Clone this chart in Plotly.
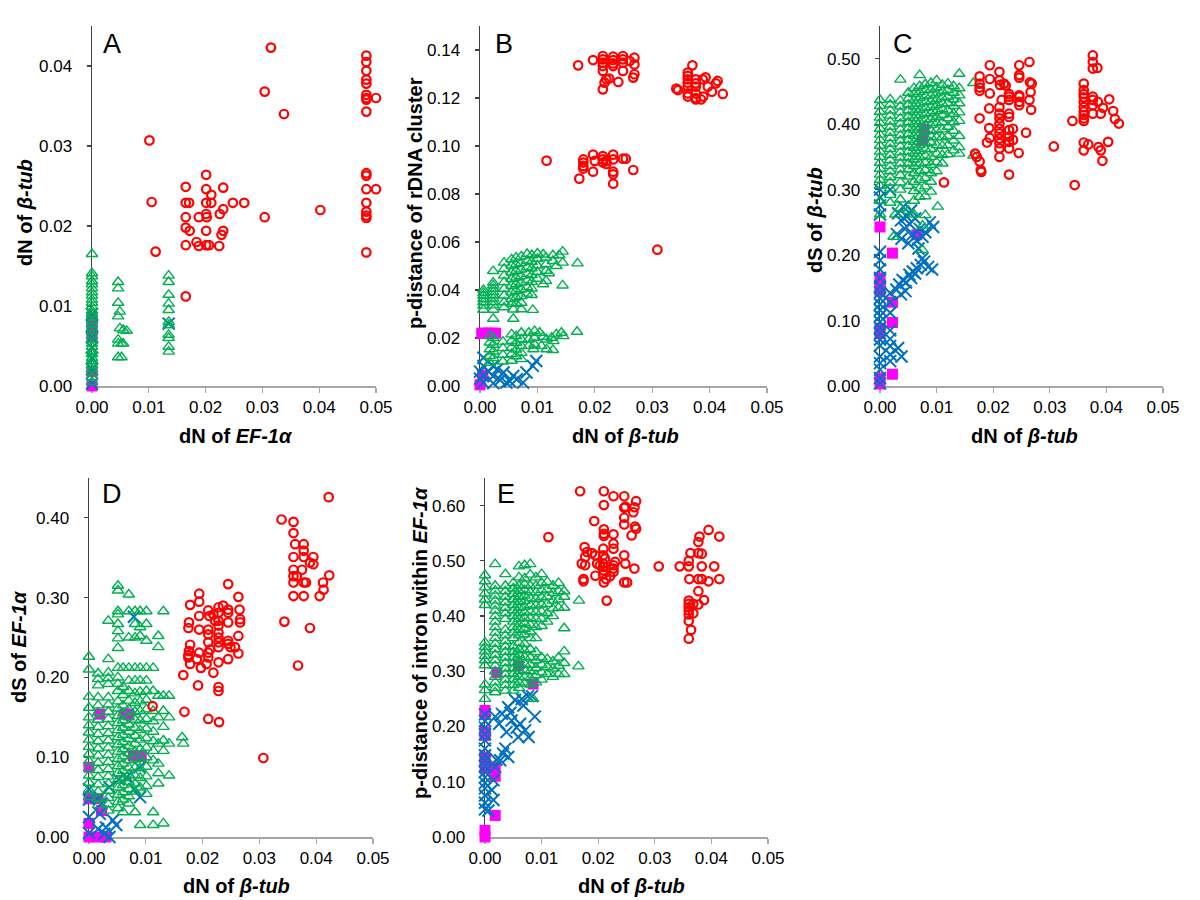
import plotly.graph_objects as go

# ---------------- DATA ----------------
X_TICKS = [0.00, 0.01, 0.02, 0.03, 0.04, 0.05]
PANEL_LETTERS = ["A", "B", "C", "D", "E"]

# ---- Panel A : dN EF-1a (x) vs dN beta-tub (y)
A_red = [(0.0315,0.0423),(0.0304,0.0368),(0.0338,0.0340),(0.0101,0.0307),(0.0105,0.0230),(0.0112,0.0168),(0.0165,0.0112),
         (0.0165,0.0249),(0.0165,0.0229),(0.0171,0.0229),(0.0165,0.0211),(0.0165,0.0198),(0.0172,0.0194),(0.0165,0.0176),
         (0.0184,0.0180),(0.0188,0.0175),(0.0188,0.0211),(0.0201,0.0264),(0.0201,0.0246),(0.0210,0.0239),(0.0201,0.0229),
         (0.0210,0.0229),(0.0201,0.0215),(0.0202,0.0211),(0.0201,0.0194),(0.0201,0.0176),(0.0206,0.0176),(0.0231,0.0248),
         (0.0231,0.0221),(0.0225,0.0215),(0.0231,0.0194),(0.0228,0.0189),(0.0224,0.0175),(0.0248,0.0229),(0.0268,0.0229),
         (0.0304,0.0211),(0.0402,0.0220),
         (0.0483,0.0413),(0.0483,0.0405),(0.0483,0.0394),(0.0483,0.0383),(0.0483,0.0378),(0.0483,0.0364),(0.0483,0.0360),
         (0.0483,0.0358),(0.0483,0.0343),(0.0483,0.0266),(0.0483,0.0263),(0.0483,0.0246),(0.0483,0.0229),(0.0483,0.0218),
         (0.0483,0.0213),(0.0483,0.0210),(0.0483,0.0167),(0.0500,0.0360),(0.0500,0.0246)]
A_green = [(0,0.0165),(0,0.0141),(0,0.0137),(0,0.0131),(0,0.0127),(0,0.0122),(0,0.0117),(0,0.0113),(0,0.0108),(0,0.0104),
           (0,0.0099),(0,0.0094),(0,0.0090),(0,0.0086),(0,0.0081),(0,0.0077),(0,0.0072),(0,0.0068),(0,0.0063),(0,0.0058),
           (0,0.0053),(0,0.0049),(0,0.0044),(0,0.0040),(0,0.0035),(0,0.0031),(0,0.0026),(0,0.0021),(0,0.0017),(0,0.0011),(0,0.0005),
           (0.0046,0.0130),(0.0046,0.0122),(0.0046,0.0104),(0.0049,0.0093),(0.0046,0.0087),(0.0049,0.0072),(0.0055,0.0070),
           (0.0061,0.0069),(0.0046,0.0058),(0.0046,0.0053),(0.0052,0.0053),(0.0055,0.0053),(0.0046,0.0036),(0.0052,0.0036),
           (0.0135,0.0138),(0.0135,0.0130),(0.0135,0.0114),(0.0135,0.0103),(0.0135,0.0095),(0.0135,0.0080),(0.0135,0.0076),
           (0.0135,0.0064),(0.0135,0.0060),(0.0135,0.0049),(0.0135,0.0043)]
A_blue = [(0,0.0003),(0,0.0021),(0,0.0035),(0,0.0048),(0,0.0061),(0,0.0075),(0,0.0090),(0.0135,0.0078)]
A_mag = [(0,0.0),(0,0.0018),(0,0.0062),(0,0.0070),(0,0.0078),(0,0.0086)]

# ---- Panel B : dN beta-tub (x) vs p-distance rDNA (y)
B_red = [(0.0171,0.1336),(0.0197,0.1358),(0.0214,0.1375),(0.0214,0.1361),(0.0214,0.1347),(0.0214,0.1333),(0.0214,0.1313),
         (0.0214,0.1236),(0.0220,0.1278),(0.0225,0.1281),(0.0217,0.1264),(0.0232,0.1372),(0.0232,0.1358),(0.0232,0.1344),
         (0.0232,0.1333),(0.0241,0.1267),(0.0249,0.1375),(0.0249,0.1361),(0.0249,0.1347),(0.0249,0.1313),(0.0261,0.1354),
         (0.0269,0.1368),(0.0269,0.1340),(0.0269,0.1299),(0.0267,0.1285),
         (0.0370,0.1336),(0.0362,0.1306),(0.0362,0.1292),(0.0362,0.1278),(0.0362,0.1264),(0.0362,0.1247),(0.0362,0.1219),
         (0.0362,0.1206),(0.0342,0.1239),(0.0345,0.1233),(0.0376,0.1278),(0.0376,0.1261),(0.0376,0.1247),(0.0376,0.1219),
         (0.0376,0.1200),(0.0376,0.1194),(0.0385,0.1194),(0.0389,0.1206),(0.0393,0.1286),(0.0397,0.1247),(0.0404,0.1226),
         (0.0414,0.1271),(0.0411,0.1261),(0.0423,0.1217),(0.0388,0.1278),
         (0.0116,0.0939),(0.0173,0.0864),(0.0180,0.0944),(0.0180,0.0931),(0.0180,0.0917),(0.0180,0.0906),(0.0197,0.0964),
         (0.0197,0.0893),(0.0200,0.0938),(0.0214,0.0958),(0.0214,0.0944),(0.0214,0.0931),(0.0220,0.0938),(0.0220,0.0925),
         (0.0232,0.0964),(0.0232,0.0944),(0.0232,0.0893),(0.0232,0.0882),(0.0232,0.0843),(0.0249,0.0947),(0.0254,0.0947),
         (0.0267,0.0900),(0.0309,0.0568)]
B_green = [(0.0006,0.0400),(0.0006,0.0388),(0.0006,0.0376),(0.0006,0.0362),(0.0006,0.0349),(0.0006,0.0335),(0.0006,0.0318),
           (0.0023,0.0479),(0.0023,0.0431),(0.0023,0.0419),(0.0023,0.0405),(0.0023,0.0392),(0.0023,0.0378),(0.0023,0.0364),
           (0.0023,0.0350),(0.0023,0.0336),(0.0023,0.0318),(0.0023,0.0280),
           (0.0042,0.0514),(0.0042,0.0488),(0.0042,0.0460),(0.0042,0.0433),(0.0042,0.0405),(0.0042,0.0377),(0.0042,0.0349),(0.0042,0.0328),
           (0.0055,0.0528),(0.0055,0.0502),(0.0055,0.0474),(0.0055,0.0446),(0.0055,0.0418),(0.0055,0.0390),(0.0055,0.0362),(0.0055,0.0342),
           (0.0058,0.0319),(0.0058,0.0280),
           (0.0063,0.0535),(0.0063,0.0508),(0.0063,0.0480),(0.0063,0.0452),(0.0063,0.0425),(0.0063,0.0397),(0.0063,0.0370),(0.0063,0.0343),
           (0.0072,0.0540),(0.0072,0.0513),(0.0072,0.0486),(0.0072,0.0458),(0.0072,0.0431),(0.0072,0.0403),(0.0072,0.0375),(0.0072,0.0347),(0.0072,0.0320),
           (0.0082,0.0550),(0.0082,0.0522),(0.0082,0.0495),(0.0082,0.0467),(0.0082,0.0440),(0.0082,0.0412),(0.0082,0.0385),
           (0.0090,0.0545),(0.0090,0.0517),(0.0090,0.0490),(0.0090,0.0462),(0.0090,0.0434),(0.0090,0.0406),(0.0090,0.0379),(0.0092,0.0317),
           (0.0100,0.0552),(0.0100,0.0530),(0.0100,0.0502),(0.0100,0.0475),(0.0100,0.0447),(0.0110,0.0424),(0.0110,0.0548),
           (0.0115,0.0535),(0.0115,0.0507),(0.0115,0.0480),(0.0115,0.0438),(0.0120,0.0470),(0.0127,0.0521),(0.0127,0.0545),
           (0.0133,0.0500),(0.0138,0.0545),(0.0144,0.0560),(0.0144,0.0514),(0.0144,0.0419),(0.0170,0.0511),
           (0.0017,0.0208),(0.0017,0.0181),(0.0017,0.0153),(0.0017,0.0125),(0.0017,0.0097),(0.0023,0.0200),(0.0023,0.0172),
           (0.0023,0.0144),(0.0023,0.0116),(0.0040,0.0185),(0.0040,0.0158),(0.0040,0.0130),(0.0040,0.0102),
           (0.0055,0.0215),(0.0055,0.0188),(0.0055,0.0160),(0.0055,0.0133),(0.0055,0.0105),
           (0.0063,0.0208),(0.0063,0.0180),(0.0063,0.0152),(0.0063,0.0124),
           (0.0072,0.0222),(0.0072,0.0194),(0.0072,0.0166),(0.0072,0.0138),(0.0072,0.0112),
           (0.0085,0.0222),(0.0085,0.0194),(0.0085,0.0167),(0.0095,0.0229),(0.0095,0.0201),(0.0095,0.0173),
           (0.0104,0.0222),(0.0107,0.0167),(0.0110,0.0205),(0.0116,0.0194),(0.0116,0.0153),(0.0125,0.0201),(0.0128,0.0187),
           (0.0127,0.0150),(0.0133,0.0215),(0.0142,0.0222),(0.0145,0.0208),(0.0169,0.0226),(0.0093,0.0153)]
B_blue = [(0.0006,0.0118),(0.0006,0.0083),(0.0006,0.0042),(0.0006,0.0014),(0.0023,0.0083),(0.0023,0.0042),(0.0023,0.0012),
          (0.0041,0.0056),(0.0046,0.0014),(0.0058,0.0042),(0.0064,0.0028),(0.0075,0.0014),(0.0081,0.0056),(0.0092,0.0084),
          (0.0098,0.0104),(0.0035,0.0025),(0.0052,0.0020),(0.0015,0.0060),(0.0030,0.0070),(0.0000,0.0060),(0.0000,0.0030)]
B_mag = [(0.0003,0.0220),(0.0009,0.0220),(0.0015,0.0220),(0.0021,0.0220),(0.0027,0.0220),(0.0000,0.0005),(0.0005,0.0045)]

# ---- Panel C : dN beta-tub (x) vs dS beta-tub (y)
C_red = [(0.0194,0.490),(0.0176,0.473),(0.0176,0.462),(0.0176,0.456),(0.0176,0.451),(0.0176,0.409),(0.0168,0.355),
         (0.0171,0.350),(0.0176,0.343),(0.0178,0.330),(0.0179,0.327),(0.0194,0.469),(0.0194,0.447),(0.0193,0.424),
         (0.0193,0.394),(0.0194,0.379),(0.0189,0.372),(0.0211,0.480),(0.0211,0.467),(0.0212,0.460),(0.0219,0.462),
         (0.0222,0.459),(0.0211,0.426),(0.0211,0.416),(0.0211,0.409),(0.0211,0.401),(0.0211,0.393),(0.0211,0.386),
         (0.0211,0.378),(0.0211,0.371),(0.0211,0.363),(0.0211,0.350),(0.0215,0.437),(0.0228,0.446),(0.0228,0.442),
         (0.0228,0.437),(0.0228,0.416),(0.0228,0.411),(0.0228,0.391),(0.0228,0.381),(0.0228,0.373),(0.0228,0.363),
         (0.0228,0.323),(0.0235,0.393),(0.0235,0.376),(0.0246,0.490),(0.0246,0.475),(0.0246,0.471),(0.0246,0.444),
         (0.0246,0.442),(0.0246,0.434),(0.0246,0.429),(0.0245,0.356),(0.0258,0.387),(0.0264,0.495),(0.0265,0.464),
         (0.0268,0.462),(0.0266,0.449),(0.0264,0.437),(0.0267,0.422),(0.0307,0.366),(0.0340,0.405),(0.0344,0.307),
         (0.0360,0.462),(0.0360,0.452),(0.0360,0.446),(0.0360,0.441),(0.0360,0.434),(0.0360,0.426),(0.0360,0.419),
         (0.0360,0.414),(0.0360,0.409),(0.0360,0.405),(0.0360,0.372),(0.0360,0.360),(0.0368,0.369),(0.0376,0.505),
         (0.0376,0.495),(0.0376,0.485),(0.0376,0.442),(0.0376,0.437),(0.0376,0.429),(0.0376,0.416),(0.0384,0.486),
         (0.0385,0.434),(0.0390,0.416),(0.0386,0.365),(0.0390,0.360),(0.0394,0.425),(0.0393,0.344),(0.0405,0.438),
         (0.0403,0.373),(0.0412,0.420),(0.0415,0.408),(0.0422,0.401),(0.0113,0.311)]
C_green = [(0,0.437),(0,0.428),(0,0.419),(0,0.410),(0,0.402),(0,0.393),(0,0.384),(0,0.376),(0,0.367),(0,0.358),(0,0.350),
           (0,0.341),(0,0.332),(0,0.323),(0,0.315),(0,0.306),(0,0.283),(0,0.262),
           (0.0018,0.438),(0.0018,0.430),(0.0018,0.421),(0.0018,0.413),(0.0018,0.404),(0.0018,0.396),(0.0018,0.387),
           (0.0018,0.379),(0.0018,0.370),(0.0018,0.362),(0.0018,0.353),(0.0018,0.345),(0.0018,0.336),(0.0018,0.328),
           (0.0018,0.319),(0.0018,0.311),(0.0018,0.302),(0.0018,0.292),(0.0018,0.280),(0.0024,0.228),(0.0027,0.262),
           (0.0036,0.468),(0.0036,0.436),(0.0036,0.427),(0.0036,0.418),(0.0036,0.409),(0.0036,0.401),(0.0036,0.392),
           (0.0036,0.383),(0.0036,0.375),(0.0036,0.366),(0.0036,0.357),(0.0036,0.349),(0.0036,0.340),(0.0036,0.331),
           (0.0036,0.322),(0.0036,0.311),(0.0036,0.300),(0.0036,0.285),(0.0036,0.272),
           (0.0050,0.448),(0.0050,0.439),(0.0050,0.430),(0.0050,0.421),(0.0050,0.412),(0.0050,0.403),(0.0050,0.394),
           (0.0050,0.385),(0.0050,0.376),(0.0050,0.367),(0.0050,0.358),(0.0050,0.349),(0.0050,0.340),(0.0050,0.331),
           (0.0050,0.320),(0.0050,0.306),(0.0050,0.268),
           (0.0060,0.455),(0.0060,0.446),(0.0060,0.436),(0.0060,0.427),(0.0060,0.418),(0.0060,0.409),(0.0060,0.400),
           (0.0060,0.391),(0.0060,0.382),(0.0060,0.373),(0.0060,0.364),(0.0060,0.355),(0.0060,0.346),(0.0060,0.336),
           (0.0060,0.325),(0.0060,0.312),(0.0060,0.298),(0.0060,0.283),(0.0060,0.262),
           (0.0070,0.475),(0.0070,0.458),(0.0070,0.449),(0.0070,0.440),(0.0070,0.431),(0.0070,0.422),(0.0070,0.413),
           (0.0070,0.404),(0.0070,0.395),(0.0070,0.386),(0.0070,0.377),(0.0070,0.368),(0.0070,0.359),(0.0070,0.350),
           (0.0070,0.340),(0.0070,0.328),(0.0070,0.315),(0.0070,0.302),(0.0070,0.289),(0.0075,0.208),(0.0075,0.245),
           (0.0080,0.461),(0.0080,0.452),(0.0080,0.443),(0.0080,0.434),(0.0080,0.425),(0.0080,0.416),(0.0080,0.407),
           (0.0080,0.398),(0.0080,0.389),(0.0080,0.380),(0.0080,0.371),(0.0080,0.362),(0.0080,0.352),(0.0080,0.341),
           (0.0080,0.330),(0.0080,0.318),(0.0080,0.305),(0.0080,0.290),(0.0080,0.261),
           (0.0090,0.463),(0.0090,0.453),(0.0090,0.444),(0.0090,0.435),(0.0090,0.426),(0.0090,0.417),(0.0090,0.408),
           (0.0090,0.399),(0.0090,0.390),(0.0090,0.381),(0.0090,0.372),(0.0090,0.362),(0.0090,0.350),(0.0090,0.338),
           (0.0090,0.325),(0.0090,0.312),(0.0090,0.297),
           (0.0100,0.467),(0.0100,0.456),(0.0100,0.447),(0.0100,0.438),(0.0100,0.429),(0.0100,0.420),(0.0100,0.411),
           (0.0100,0.402),(0.0100,0.391),(0.0100,0.380),(0.0100,0.368),(0.0100,0.355),(0.0100,0.342),(0.0100,0.328),(0.0102,0.274),
           (0.0110,0.460),(0.0110,0.450),(0.0110,0.441),(0.0110,0.432),(0.0110,0.423),(0.0110,0.414),(0.0110,0.403),
           (0.0110,0.392),(0.0110,0.380),(0.0110,0.367),(0.0110,0.353),(0.0110,0.340),
           (0.0120,0.462),(0.0120,0.452),(0.0120,0.442),(0.0120,0.432),(0.0120,0.421),(0.0120,0.409),(0.0120,0.396),
           (0.0120,0.382),(0.0120,0.368),(0.0120,0.354),
           (0.0130,0.458),(0.0130,0.448),(0.0130,0.438),(0.0130,0.428),(0.0130,0.416),(0.0130,0.403),(0.0130,0.390),
           (0.0130,0.375),(0.0130,0.360),
           (0.0140,0.477),(0.0140,0.455),(0.0140,0.444),(0.0140,0.432),(0.0140,0.418),(0.0140,0.405),(0.0140,0.382),
           (0.0140,0.365),(0.0140,0.355),(0.0165,0.463),(0.0165,0.352)]
C_blue = [(0,0.300),(0,0.288),(0,0.276),(0,0.262),(0,0.205),(0,0.192),(0,0.178),(0,0.165),(0,0.152),(0,0.143),(0,0.134),
          (0,0.125),(0,0.116),(0,0.107),(0,0.098),(0,0.089),(0,0.080),(0,0.071),(0,0.062),(0,0.045),(0,0.035),(0,0.025),
          (0,0.012),(0,0.004),
          (0.0018,0.300),(0.0018,0.142),(0.0018,0.128),(0.0018,0.112),(0.0018,0.085),(0.0018,0.072),(0.0018,0.061),
          (0.0018,0.048),(0.0018,0.038),(0.0032,0.058),(0.0038,0.045),
          (0.0032,0.264),(0.0037,0.253),(0.0041,0.274),(0.0047,0.259),(0.0044,0.240),(0.0052,0.248),(0.0055,0.268),
          (0.0058,0.232),(0.0062,0.256),(0.0065,0.222),(0.0070,0.240),(0.0075,0.228),(0.0080,0.235),(0.0088,0.250),
          (0.0094,0.243),(0.0038,0.225),(0.0050,0.218),(0.0068,0.210),(0.0030,0.232),
          (0.0029,0.147),(0.0034,0.155),(0.0040,0.162),(0.0046,0.158),(0.0052,0.170),(0.0058,0.175),(0.0065,0.180),
          (0.0072,0.185),(0.0078,0.190),(0.0085,0.182),(0.0092,0.178),(0.0045,0.145),(0.0037,0.140),(0.0055,0.165),
          (0.0062,0.172),(0.0075,0.195)]
C_mag = [(0,0.243),(0,0.165),(0,0.155),(0,0.145),(0,0.088),(0,0.080),(0,0.012),(0,0.003),(0.0022,0.203),(0.0022,0.128),
         (0.0022,0.097),(0.0022,0.018),(0.0065,0.231),(0.0078,0.392),(0.0075,0.375)]

# ---- Panel D : dN beta-tub (x) vs dS EF-1a (y)
D_red = [(0.0422,0.426),(0.0339,0.398),(0.0360,0.395),(0.0360,0.381),(0.0363,0.367),(0.0378,0.367),(0.0378,0.359),
         (0.0378,0.351),(0.0360,0.351),(0.0395,0.351),(0.0389,0.344),(0.0395,0.342),(0.0375,0.335),(0.0360,0.335),
         (0.0360,0.327),(0.0366,0.327),(0.0423,0.328),(0.0360,0.319),(0.0378,0.319),(0.0382,0.319),(0.0412,0.319),
         (0.0413,0.310),(0.0360,0.302),(0.0378,0.302),(0.0406,0.302),(0.0344,0.270),(0.0389,0.262),(0.0368,0.215),
         (0.0307,0.099),(0.0112,0.164),(0.0168,0.157),(0.0166,0.203),(0.0178,0.291),(0.0176,0.269),(0.0175,0.262),
         (0.0178,0.241),(0.0176,0.233),(0.0175,0.228),(0.0175,0.225),(0.0178,0.217),(0.0194,0.305),(0.0194,0.295),
         (0.0194,0.277),(0.0194,0.260),(0.0194,0.231),(0.0190,0.223),(0.0197,0.212),(0.0192,0.190),(0.0210,0.284),
         (0.0212,0.277),(0.0210,0.260),(0.0210,0.254),(0.0210,0.244),(0.0213,0.235),(0.0210,0.231),(0.0210,0.225),
         (0.0207,0.217),(0.0219,0.206),(0.0210,0.148),(0.0219,0.279),(0.0222,0.271),(0.0228,0.288),(0.0228,0.281),
         (0.0228,0.271),(0.0228,0.265),(0.0228,0.256),(0.0228,0.250),(0.0228,0.244),(0.0228,0.238),(0.0228,0.219),
         (0.0228,0.188),(0.0228,0.183),(0.0229,0.144),(0.0236,0.290),(0.0245,0.317),(0.0245,0.285),(0.0245,0.281),
         (0.0245,0.269),(0.0245,0.246),(0.0245,0.242),(0.0249,0.238),(0.0245,0.223),(0.0257,0.238),(0.0263,0.301),
         (0.0265,0.285),(0.0266,0.273),(0.0266,0.269),(0.0263,0.252),(0.0263,0.230)]
D_green = [(0,0.226),(0,0.210),(0,0.176),(0,0.162),(0,0.150),(0,0.140),(0,0.131),(0,0.122),(0,0.113),(0,0.104),(0,0.095),
           (0,0.086),(0,0.077),(0,0.068),(0,0.059),(0,0.050),
           (0.0016,0.205),(0.0016,0.198),(0.0016,0.190),(0.0016,0.175),(0.0016,0.165),(0.0016,0.156),(0.0016,0.147),
           (0.0016,0.138),(0.0016,0.129),(0.0016,0.120),(0.0016,0.111),(0.0016,0.102),(0.0016,0.093),(0.0016,0.084),
           (0.0016,0.075),(0.0016,0.066),(0.0016,0.057),(0.0016,0.048),(0.0016,0.040),
           (0.0034,0.271),(0.0034,0.223),(0.0034,0.206),(0.0034,0.199),(0.0034,0.192),(0.0034,0.175),(0.0034,0.166),
           (0.0034,0.157),(0.0034,0.148),(0.0034,0.139),(0.0034,0.130),(0.0034,0.121),(0.0034,0.112),(0.0034,0.103),
           (0.0034,0.094),(0.0034,0.085),(0.0034,0.076),(0.0034,0.067),(0.0034,0.058),(0.0034,0.049),(0.0034,0.041),(0.0034,0.033),
           (0.0051,0.315),(0.0051,0.309),(0.0051,0.283),(0.0051,0.279),(0.0051,0.267),(0.0051,0.258),(0.0051,0.249),
           (0.0051,0.237),(0.0051,0.212),(0.0051,0.200),(0.0051,0.192),(0.0051,0.183),(0.0051,0.170),(0.0051,0.161),
           (0.0051,0.152),(0.0051,0.143),(0.0051,0.134),(0.0051,0.125),(0.0051,0.116),(0.0051,0.107),(0.0051,0.098),
           (0.0051,0.089),(0.0051,0.080),(0.0051,0.071),(0.0051,0.062),(0.0051,0.053),(0.0051,0.044),(0.0051,0.036),
           (0.0060,0.212),(0.0060,0.188),(0.0060,0.178),(0.0060,0.165),(0.0060,0.155),(0.0060,0.146),(0.0060,0.137),
           (0.0060,0.128),(0.0060,0.119),(0.0060,0.110),(0.0060,0.101),(0.0060,0.092),(0.0060,0.083),(0.0060,0.074),
           (0.0060,0.065),(0.0060,0.056),(0.0060,0.047),(0.0060,0.031),
           (0.0070,0.304),(0.0070,0.283),(0.0070,0.250),(0.0070,0.212),(0.0070,0.196),(0.0070,0.183),(0.0070,0.171),
           (0.0070,0.160),(0.0070,0.150),(0.0070,0.141),(0.0070,0.132),(0.0070,0.123),(0.0070,0.114),(0.0070,0.105),
           (0.0070,0.096),(0.0070,0.087),(0.0070,0.078),(0.0070,0.069),(0.0070,0.060),(0.0070,0.051),(0.0070,0.042),
           (0.0081,0.283),(0.0081,0.267),(0.0081,0.250),(0.0081,0.212),(0.0081,0.196),(0.0081,0.180),(0.0081,0.168),
           (0.0081,0.157),(0.0081,0.147),(0.0081,0.137),(0.0081,0.127),(0.0081,0.117),(0.0081,0.107),(0.0081,0.097),
           (0.0081,0.087),(0.0081,0.077),(0.0081,0.067),(0.0081,0.057),(0.0081,0.031),
           (0.0090,0.283),(0.0090,0.263),(0.0090,0.252),(0.0090,0.212),(0.0090,0.196),(0.0090,0.182),(0.0090,0.170),
           (0.0090,0.158),(0.0090,0.146),(0.0090,0.134),(0.0090,0.122),(0.0090,0.110),(0.0090,0.098),(0.0090,0.086),
           (0.0090,0.074),(0.0090,0.062),(0.0090,0.015),
           (0.0101,0.283),(0.0101,0.267),(0.0101,0.246),(0.0101,0.212),(0.0101,0.196),(0.0101,0.183),(0.0101,0.172),
           (0.0101,0.160),(0.0101,0.148),(0.0101,0.136),(0.0101,0.124),(0.0101,0.112),(0.0101,0.100),(0.0101,0.088),
           (0.0101,0.076),(0.0101,0.064),(0.0101,0.054),
           (0.0113,0.212),(0.0113,0.183),(0.0113,0.158),(0.0113,0.145),(0.0113,0.132),(0.0113,0.120),(0.0113,0.108),
           (0.0113,0.096),(0.0113,0.031),(0.0113,0.015),
           (0.0122,0.252),(0.0122,0.238),(0.0122,0.177),(0.0122,0.150),(0.0122,0.117),(0.0122,0.092),(0.0122,0.080),(0.0122,0.067),
           (0.0131,0.283),(0.0131,0.177),(0.0131,0.158),(0.0131,0.138),(0.0131,0.121),(0.0131,0.108),(0.0131,0.017),
           (0.0141,0.177),(0.0141,0.150),(0.0141,0.117),(0.0141,0.077),(0.0164,0.125),(0.0166,0.117)]
D_blue = [(0.0036,0.000),(0.0048,0.015),(0.0042,0.021),(0.0019,0.029),(0.0,0.025),(0.0019,0.050),(0.0036,0.0625),
          (0.0066,0.075),(0.0089,0.0875),(0.0079,0.276),(0.0,0.005),(0.0,0.047),(0.0,0.060),(0.0016,0.010),
          (0.0030,0.012),(0.0027,0.004),(0.0022,0.042),(0.0052,0.072),(0.0080,0.060),(0.0090,0.050)]
D_mag = [(0.0019,0.154),(0.0063,0.154),(0.0070,0.154),(0.0078,0.102),(0.0092,0.102),(0.0,0.0875),(0.0,0.048),
         (0.0016,0.048),(0.0022,0.033),(0.0,0.017),(0.0,0.0),(0.0016,0.0),(0.0030,0.0)]

# ---- Panel E : dN beta-tub (x) vs p-distance intron EF-1a (y)
E_red = [(0.0168,0.626),(0.0210,0.626),(0.0210,0.601),(0.0227,0.617),(0.0246,0.617),(0.0246,0.596),(0.0248,0.598),
         (0.0267,0.608),(0.0264,0.597),(0.0262,0.588),(0.0193,0.572),(0.0246,0.578),(0.0246,0.566),(0.0210,0.557),
         (0.0210,0.549),(0.0210,0.545),(0.0227,0.548),(0.0265,0.562),(0.0267,0.558),(0.0259,0.546),(0.0112,0.543),
         (0.0176,0.525),(0.0180,0.516),(0.0209,0.522),(0.0227,0.531),(0.0227,0.522),(0.0189,0.514),(0.0195,0.510),
         (0.0177,0.507),(0.0209,0.510),(0.0212,0.504),(0.0246,0.510),(0.0171,0.495),(0.0177,0.492),(0.0198,0.495),
         (0.0203,0.492),(0.0209,0.495),(0.0209,0.489),(0.0209,0.483),(0.0209,0.476),(0.0227,0.492),(0.0227,0.486),
         (0.0227,0.480),(0.0230,0.498),(0.0248,0.495),(0.0264,0.486),(0.0195,0.473),(0.0174,0.467),(0.0174,0.463),
         (0.0214,0.467),(0.0221,0.472),(0.0210,0.461),(0.0246,0.461),(0.0251,0.461),(0.0215,0.428),(0.0307,0.490),
         (0.0344,0.490),(0.0360,0.490),(0.0360,0.500),(0.0363,0.514),(0.0377,0.514),(0.0383,0.513),(0.0379,0.544),
         (0.0377,0.534),(0.0395,0.556),(0.0414,0.544),(0.0383,0.490),(0.0405,0.490),(0.0361,0.467),(0.0377,0.467),
         (0.0383,0.467),(0.0395,0.463),(0.0414,0.467),(0.0377,0.445),(0.0387,0.429),(0.0360,0.428),(0.0360,0.422),
         (0.0360,0.416),(0.0360,0.410),(0.0360,0.403),(0.0360,0.391),(0.0368,0.422),(0.0368,0.405),(0.0377,0.421),
         (0.0364,0.375),(0.0360,0.359)]
E_green = [(0,0.474),(0,0.463),(0,0.452),(0,0.441),(0,0.430),(0,0.420),(0,0.352),(0,0.344),(0,0.336),(0,0.328),(0,0.320),
           (0,0.311),(0,0.276),(0,0.266),(0,0.250),
           (0.0018,0.494),(0.0018,0.455),(0.0018,0.446),(0.0018,0.437),(0.0018,0.428),(0.0018,0.419),(0.0018,0.410),
           (0.0018,0.400),(0.0018,0.390),(0.0018,0.380),(0.0018,0.370),(0.0018,0.360),(0.0018,0.350),(0.0018,0.340),
           (0.0018,0.330),(0.0018,0.320),(0.0018,0.310),(0.0018,0.300),(0.0018,0.290),(0.0018,0.280),(0.0018,0.270),(0.0018,0.262),
           (0.0036,0.476),(0.0036,0.455),(0.0036,0.445),(0.0036,0.435),(0.0036,0.425),(0.0036,0.415),(0.0036,0.405),
           (0.0036,0.395),(0.0036,0.375),(0.0036,0.365),(0.0036,0.355),(0.0036,0.345),(0.0036,0.335),(0.0036,0.325),
           (0.0036,0.315),(0.0036,0.305),(0.0036,0.295),(0.0036,0.285),(0.0036,0.275),(0.0036,0.265),
           (0.0050,0.460),(0.0050,0.450),(0.0050,0.440),(0.0050,0.430),(0.0050,0.420),(0.0050,0.410),(0.0050,0.400),
           (0.0050,0.390),(0.0050,0.380),(0.0050,0.370),(0.0050,0.360),(0.0050,0.345),(0.0050,0.335),(0.0050,0.325),
           (0.0050,0.315),(0.0050,0.305),(0.0050,0.295),(0.0050,0.285),(0.0050,0.275),(0.0050,0.265),
           (0.0060,0.490),(0.0060,0.470),(0.0060,0.455),(0.0060,0.445),(0.0060,0.435),(0.0060,0.425),(0.0060,0.415),
           (0.0060,0.405),(0.0060,0.395),(0.0060,0.385),(0.0060,0.375),(0.0060,0.365),(0.0060,0.352),(0.0060,0.340),
           (0.0060,0.330),(0.0060,0.320),(0.0060,0.310),(0.0060,0.300),(0.0060,0.290),(0.0060,0.280),(0.0060,0.270),
           (0.0070,0.492),(0.0070,0.468),(0.0070,0.457),(0.0070,0.447),(0.0070,0.437),(0.0070,0.427),(0.0070,0.417),
           (0.0070,0.407),(0.0070,0.397),(0.0070,0.387),(0.0070,0.377),(0.0070,0.367),(0.0070,0.350),(0.0070,0.338),
           (0.0070,0.326),(0.0070,0.314),(0.0070,0.302),(0.0070,0.290),(0.0070,0.278),
           (0.0080,0.494),(0.0080,0.475),(0.0080,0.455),(0.0080,0.443),(0.0080,0.432),(0.0080,0.420),(0.0080,0.408),
           (0.0080,0.396),(0.0080,0.384),(0.0080,0.372),(0.0080,0.360),(0.0080,0.340),(0.0080,0.325),(0.0080,0.312),
           (0.0080,0.300),(0.0080,0.288),(0.0080,0.276),(0.0085,0.250),
           (0.0090,0.470),(0.0090,0.455),(0.0090,0.443),(0.0090,0.431),(0.0090,0.419),(0.0090,0.407),(0.0090,0.395),
           (0.0090,0.380),(0.0090,0.360),(0.0090,0.335),(0.0090,0.320),(0.0090,0.306),(0.0090,0.293),(0.0090,0.280),
           (0.0100,0.476),(0.0100,0.460),(0.0100,0.447),(0.0100,0.434),(0.0100,0.421),(0.0100,0.408),(0.0100,0.395),
           (0.0100,0.382),(0.0100,0.325),(0.0100,0.312),(0.0100,0.298),(0.0100,0.285),
           (0.0110,0.462),(0.0110,0.448),(0.0110,0.435),(0.0110,0.422),(0.0110,0.405),(0.0110,0.390),(0.0110,0.322),
           (0.0110,0.308),(0.0110,0.295),
           (0.0120,0.455),(0.0120,0.442),(0.0120,0.428),(0.0120,0.414),(0.0120,0.400),(0.0120,0.318),(0.0120,0.305),(0.0120,0.290),
           (0.0130,0.460),(0.0130,0.445),(0.0130,0.430),(0.0130,0.415),(0.0130,0.325),(0.0130,0.310),(0.0130,0.295),
           (0.0140,0.445),(0.0140,0.435),(0.0140,0.415),(0.0140,0.378),(0.0140,0.336),(0.0140,0.315),(0.0140,0.295),
           (0.0166,0.428),(0.0165,0.309)]
E_blue = [(0,0.222),(0,0.210),(0,0.198),(0,0.186),(0,0.175),(0,0.160),(0,0.148),(0,0.138),(0,0.128),(0,0.118),(0,0.108),
          (0,0.098),(0,0.088),(0,0.075),(0,0.062),(0,0.050),
          (0.0018,0.218),(0.0030,0.223),(0.0041,0.235),(0.0053,0.248),(0.0065,0.250),(0.0076,0.255),(0.0088,0.218),
          (0.0071,0.193),(0.0056,0.198),(0.0047,0.211),(0.0038,0.190),(0.0059,0.181),(0.0077,0.181),(0.0032,0.151),
          (0.0041,0.145),(0.0027,0.139),(0.0018,0.127),(0.0015,0.103),(0.0015,0.067),(0.0006,0.048),(0.0062,0.205),
          (0.0025,0.205),(0.0045,0.225),(0.0068,0.238),(0.0083,0.255),(0.0020,0.140),(0.0012,0.085),(0.0036,0.160)]
E_mag = [(0,0.229),(0,0.222),(0,0.190),(0,0.184),(0,0.145),(0,0.135),(0,0.125),(0,0.012),(0,0.000),(0.0018,0.127),
         (0.0018,0.110),(0.0018,0.039),(0.0021,0.298),(0.0085,0.277),(0.0059,0.310)]

Y_RANGES = {"A": [0, 0.045], "B": [0, 0.15], "C": [0, 0.55], "D": [0, 0.45], "E": [0, 0.65]}
Y_DTICK = {"A": 0.01, "B": 0.02, "C": 0.1, "D": 0.1, "E": 0.1}
X_TITLES = {"A": "dN of <i>EF-1α</i>", "B": "dN of <i>β-tub</i>", "C": "dN of <i>β-tub</i>",
            "D": "dN of <i>β-tub</i>", "E": "dN of <i>β-tub</i>"}
Y_TITLES = {"A": "dN of <i>β-tub</i>", "B": "p-distance of rDNA cluster", "C": "dS of <i>β-tub</i>",
            "D": "dS of <i>EF-1α</i>", "E": "p-distance of intron within <i>EF-1α</i>"}

SERIES = {
    "A": (A_mag, A_blue, A_green, A_red),
    "B": (B_mag, B_blue, B_green, B_red),
    "C": (C_mag, C_blue, C_green, C_red),
    "D": (D_mag, D_blue, D_green, D_red),
    "E": (E_mag, E_blue, E_green, E_red),
}

# ---------------- LAYOUT / STYLE ----------------
# The page's default body margin is removed by a post-script, so the figure fills the 1200x900 window.
W, H = 1200, 900
# screen-pixel boxes of each plot area: (left, right, top, bottom)
BOXES = {"A": (92, 376, 26, 386), "B": (480, 767, 26, 386), "C": (880, 1163, 26, 386),
         "D": (89, 373, 478, 837), "E": (485, 768, 478, 837)}
# screen-pixel positions of axis-title centres and panel-letter centres
XTITLE_POS = {"A": (236, 436), "B": (626, 436), "C": (1024, 436), "D": (236, 886), "E": (631, 886)}
YTITLE_POS = {"A": (25, 213), "B": (415, 203), "C": (815, 220), "D": (19, 647), "E": (420, 643)}
LETTER_POS = {"A": (112, 44), "B": (504, 44), "C": (903, 44), "D": (112, 494), "E": (506, 494)}


def px(x):
    return x / W


def py(y):
    return 1 - y / H


FONT = "Liberation Sans, Arial, sans-serif"
RED = "#FF0000"
GREEN = "#00B050"
BLUE = "#0070C0"
MAG = "#FF00FF"

fig = go.Figure()
layout_axes = {}
annotations = []

for i, key in enumerate(PANEL_LETTERS):
    n = "" if i == 0 else str(i + 1)
    xa, ya = "x" + n, "y" + n
    l, r, t, b = BOXES[key]
    mag, blue, green, red = SERIES[key]

    def add(pts, name, marker):
        fig.add_trace(go.Scatter(
            x=[p[0] for p in pts], y=[p[1] for p in pts], mode="markers", name=name,
            marker=marker, xaxis=xa, yaxis=ya, cliponaxis=False, showlegend=False,
            hoverinfo="x+y"))

    add(mag, "magenta", dict(symbol="square", size=11, color=MAG, line=dict(width=0)))
    add(blue, "blue", dict(symbol="x-thin-open", size=12, color=BLUE, line=dict(width=2, color=BLUE)))
    add(green, "green", dict(symbol="triangle-up-open", size=10, color=GREEN, line=dict(width=1.4, color=GREEN)))
    add(red, "red", dict(symbol="circle-open", size=8.5, color=RED, line=dict(width=2.2, color=RED)))

    layout_axes["xaxis" + n] = dict(
        domain=[px(l), px(r)], anchor=ya, range=[0, 0.05], tickvals=X_TICKS, tickformat=".2f",
        showline=True, linecolor="#A6A6A6", linewidth=1.5, ticks="outside", ticklen=5,
        tickcolor="#A6A6A6", tickwidth=1.2, showgrid=False, zeroline=False, layer="below traces",
        tickfont=dict(family=FONT, size=17, color="black"), ticklabelstandoff=0,
        automargin=False, fixedrange=True)
    layout_axes["yaxis" + n] = dict(
        domain=[py(b), py(t)], anchor=xa, range=Y_RANGES[key], dtick=Y_DTICK[key], tick0=0,
        tickformat=".2f", showline=True, linecolor="#404040", linewidth=1.5, ticks="outside", ticklen=4,
        tickcolor="#404040", tickwidth=1.2, showgrid=False, zeroline=False, layer="below traces",
        tickfont=dict(family=FONT, size=17, color="black"), ticklabelstandoff=11,
        automargin=False, fixedrange=True)

    xt = XTITLE_POS[key]
    annotations.append(dict(text="<b>" + X_TITLES[key] + "</b>", x=px(xt[0]), y=py(xt[1]),
                            xref="paper", yref="paper", xanchor="center", yanchor="middle", showarrow=False,
                            font=dict(family=FONT, size=20, color="black")))
    yt = YTITLE_POS[key]
    annotations.append(dict(text="<b>" + Y_TITLES[key] + "</b>", x=px(yt[0]), y=py(yt[1]),
                            xref="paper", yref="paper", xanchor="center", yanchor="middle", showarrow=False,
                            textangle=-90, font=dict(family=FONT, size=20, color="black")))
    lp = LETTER_POS[key]
    annotations.append(dict(text=key, x=px(lp[0]), y=py(lp[1]), xref="paper", yref="paper",
                            xanchor="center", yanchor="middle", showarrow=False,
                            font=dict(family=FONT, size=27, color="black")))

fig.update_layout(
    width=W, height=H, margin=dict(l=0, r=0, t=0, b=0),
    paper_bgcolor="white", plot_bgcolor="white", showlegend=False,
    annotations=annotations, **layout_axes)

fig.write_html("out.html", config={"displayModeBar": False, "staticPlot": True},
               post_script="document.body.style.margin='0';document.body.style.overflow='hidden';")
